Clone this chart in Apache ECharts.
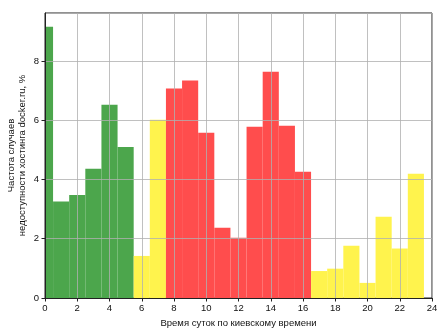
<!DOCTYPE html>
<html>
<head>
<meta charset="utf-8">
<script src="https://cdn.jsdelivr.net/npm/echarts@6/dist/echarts.min.js"></script>
<style>
  html, body { margin: 0; padding: 0; background: #fff; }
  #chart { width: 448px; height: 336px; }
</style>
</head>
<body>
<div id="chart"></div>
<script>
// Hour of day (Kyiv time), one bin per hour centred on the hour
const hours = [0, 1, 2, 3, 4, 5, 6, 7, 8, 9, 10, 11, 12, 13, 14, 15, 16, 17, 18, 19, 20, 21, 22, 23];
// Share of downtime incidents per hour, %
const frequency = [9.16, 3.26, 3.48, 4.36, 6.52, 5.10, 1.42, 6.02, 7.07, 7.34, 5.58, 2.37,
                   2.03, 5.78, 7.64, 5.81, 4.26, 0.91, 0.99, 1.76, 0.51, 2.74, 1.67, 4.19];
// Colour group of each hour: g = quiet, y = moderate, r = busy
const zones = ['g','g','g','g','g','g','y','y','r','r','r','r',
               'r','r','r','r','r','y','y','y','y','y','y','y'];
const zoneColors = { g: '#4ca64c', y: '#fff34d', r: '#ff4d4d' };

const xTicks = [0, 2, 4, 6, 8, 10, 12, 14, 16, 18, 20, 22, 24];
const yTicks = [0, 2, 4, 6, 8];

const FONT = 'Liberation Sans, Arial, sans-serif';

const chart = echarts.init(document.getElementById('chart'), null, { renderer: 'canvas' });

chart.setOption({
  animation: false,
  backgroundColor: '#ffffff',
  grid: {
    left: 45, right: 16, top: 13, bottom: 38,
    containLabel: false, outerBoundsMode: 'none',
    show: true, borderColor: '#222', borderWidth: 1, backgroundColor: 'transparent'
  },
  xAxis: {
    type: 'value', min: xTicks[0], max: xTicks[xTicks.length - 1], interval: 2,
    z: 5,
    name: 'Время суток по киевскому времени',
    nameLocation: 'middle', nameGap: 20, nameMoveOverlap: false,
    nameTextStyle: { fontFamily: FONT, fontSize: 9.5, color: '#111' },
    axisLine: { show: true, onZero: false, lineStyle: { color: '#222', width: 1 } },
    axisTick: { show: true, inside: false, length: 3.5, lineStyle: { color: '#222' } },
    axisLabel: { fontFamily: FONT, fontSize: 9.5, color: '#111', margin: 5 },
    splitLine: { show: true, lineStyle: { color: '#b0b0b0', width: 0.8 } }
  },
  yAxis: {
    type: 'value', min: yTicks[0], max: 9.62, interval: 2,
    z: 5,
    name: 'Частота случаев\nнедоступности хостинга docker.ru, %',
    nameLocation: 'middle', nameGap: 17, nameRotate: 90, nameMoveOverlap: false,
    nameTextStyle: { fontFamily: FONT, fontSize: 9.5, color: '#111', lineHeight: 11 },
    axisLine: { show: true, onZero: false, lineStyle: { color: '#222', width: 1 } },
    axisTick: { show: true, inside: false, length: 3.5, lineStyle: { color: '#222' } },
    axisLabel: { fontFamily: FONT, fontSize: 9.5, color: '#111', margin: 6, showMaxLabel: false },
    splitLine: { show: true, lineStyle: { color: '#b0b0b0', width: 0.8 } }
  },
  series: [{
    type: 'custom',
    z: 1,
    clip: true,
    data: hours.map((h, i) => [h, frequency[i], i]),
    renderItem: function (params, api) {
      const h = api.value(0);
      const v = api.value(1);
      const idx = api.value(2);
      const p0 = api.coord([h - 0.5, 0]);
      const p1 = api.coord([h + 0.5, v]);
      const rect = echarts.graphic.clipRectByRect({
        x: p0[0], y: p1[1], width: p1[0] - p0[0], height: p0[1] - p1[1]
      }, {
        x: params.coordSys.x, y: params.coordSys.y,
        width: params.coordSys.width, height: params.coordSys.height
      });
      if (!rect) return null;
      return {
        type: 'rect',
        shape: rect,
        style: { fill: zoneColors[zones[idx]] }
      };
    }
  }]
});
</script>
</body>
</html>
